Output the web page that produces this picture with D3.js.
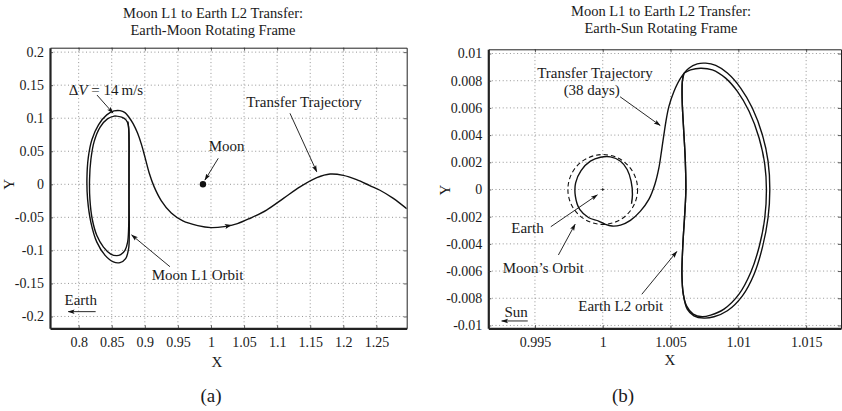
<!DOCTYPE html>
<html><head><meta charset="utf-8">
<script src="https://cdn.jsdelivr.net/npm/d3@7"></script>
<style>
body{margin:0;background:#fff}
svg{display:block}
text{font-family:"Liberation Serif","DejaVu Serif",serif;fill:#1a1a1a}
</style>
</head><body>
<svg id="c" width="842" height="411"></svg>
<script>
const FONT = "'Liberation Serif','DejaVu Serif',serif";
// ---------- Panel (a): Earth-Moon rotating frame ----------
const emXTicks = [0.8,0.85,0.9,0.95,1,1.05,1.1,1.15,1.2,1.25];
const emXTickLabels = ["0.8","0.85","0.9","0.95","1","1.05","1.1","1.15","1.2","1.25"];
const emYTicks = [-0.2,-0.15,-0.1,-0.05,0,0.05,0.1,0.15,0.2];
const emYTickLabels = ["-0.2","-0.15","-0.1","-0.05","0","0.05","0.1","0.15","0.2"];
const emXDomain = [0.7567, 1.2958];
const emYDomain = [-0.2179, 0.2067];

const moonL1Orbit = [
 [0.855,0.1035],[0.865,0.1015],[0.8715,0.0975],[0.875,0.09],[0.876,0.0675],[0.876,0.0275],
 [0.876,-0.0225],[0.8755,-0.0675],[0.874,-0.0875],[0.87,-0.1],[0.8635,-0.1065],[0.8575,-0.108],
 [0.8485,-0.1055],[0.8375,-0.095],[0.8275,-0.0775],[0.8205,-0.0525],[0.817,-0.0225],[0.8165,0.0075],
 [0.8185,0.0375],[0.8235,0.065],[0.8325,0.0865],[0.8435,0.099],[0.855,0.1035]
];
const emTransfer = [
 [0.8745,0.095],[0.876,0.0775],[0.8762,0.0275],[0.8762,-0.0225],[0.8765,-0.0725],[0.8755,-0.0975],
 [0.871,-0.1125],[0.8625,-0.1185],[0.8525,-0.1175],[0.84,-0.1075],[0.8275,-0.0875],[0.8185,-0.0575],
 [0.8135,-0.0225],[0.8125,0.0075],[0.8145,0.04],[0.82,0.0675],[0.83,0.09],[0.8425,0.105],
 [0.8535,0.111],[0.8625,0.1115],[0.87,0.1085],[0.876,0.1015],[0.8825,0.0915],[0.889,0.0775],
 [0.895,0.06],[0.9005,0.04],[0.9065,0.0175],[0.914,-0.0035],[0.925,-0.025],[0.94,-0.0435],
 [0.9575,-0.0555],[0.98,-0.0625],[1.0,-0.0655],[1.02,-0.064],[1.04,-0.0595],[1.06,-0.051],
 [1.084,-0.039],[1.11,-0.021],[1.1345,-0.004],[1.16,0.010],[1.18,0.0155],[1.2,0.0135],
 [1.22,0.007],[1.24,-0.002],[1.2554,-0.009],[1.275,-0.021],[1.2958,-0.037]
];
const moonPos = [0.98785, 0];
const emFlowArrow = [[1.02,-0.064],[1.04,-0.0595]];

const emLabels = [
 {t:"Moon L1 to Earth L2 Transfer:", px:213, py:13},
 {t:"Earth-Moon Rotating Frame", px:213, py:30}
];
const emNotes = [
 {t:"Transfer Trajectory", x:1.1406, y:0.125},
 {t:"Moon", x:1.0237, y:0.058},
 {t:"Moon L1 Orbit", x:0.9796, y:-0.1372},
 {t:"Earth", x:0.8032, y:-0.175}
];
const emArrows = [
 [[0.8277,0.1351],[0.8519,0.1078]],
 [[1.1194,0.1074],[1.1598,0.0191]],
 [[1.011,0.0393],[0.9909,0.0065]],
 [[0.938,-0.1247],[0.8801,-0.0767]],
 [[0.8257,-0.1927],[0.7843,-0.1927]]
];

// ---------- Panel (b): Earth-Sun rotating frame ----------
const esXTicks = [0.995,1,1.005,1.01,1.015];
const esXTickLabels = ["0.995","1","1.005","1.01","1.015"];
const esYTicks = [-0.01,-0.008,-0.006,-0.004,-0.002,0,0.002,0.004,0.006,0.008,0.01];
const esYTickLabels = ["-0.01","-0.008","-0.006","-0.004","-0.002","0","0.002","0.004","0.006","0.008","0.01"];
const esXDomain = [0.99156, 1.01757];
const esYDomain = [-0.01021, 0.01031];

const esTransfer = [
 [1.00212,-0.00105],[1.00219,-0.00037],[1.00209,0.00061],[1.0018,0.00147],[1.00131,0.00208],
 [1.00057,0.0024],[0.99983,0.00237],[0.99909,0.00208],[0.9984,0.00139],[0.998,0.00049],
 [0.99798,-0.00049],[0.9983,-0.00147],[0.99897,-0.00208],[0.9997,-0.00232],[1.0002,-0.00257],
 [1.00069,-0.00269],[1.00131,-0.00262],[1.00204,-0.00227],[1.00278,-0.00159],[1.0034,-0.00073],
 [1.00384,0.00037],[1.00414,0.00159],[1.00433,0.00281],[1.00451,0.00403],[1.00466,0.00501],
 [1.00488,0.00611],[1.00525,0.00721],[1.00574,0.00819],[1.00635,0.00892],[1.00697,0.00924],
 [1.00759,0.00929],[1.00833,0.00912],[1.00919,0.00856],[1.01017,0.00746],[1.01103,0.00599],
 [1.01177,0.00403],[1.01219,0.00208],[1.01232,0],[1.01219,-0.00208],[1.01177,-0.00428],
 [1.01116,-0.00623],[1.0103,-0.00782],[1.00919,-0.00892],[1.0082,-0.00936],[1.00746,-0.00946],
 [1.00672,-0.00929],[1.00623,-0.0088],[1.00594,-0.0077],[1.00584,-0.00623],[1.00591,-0.00403],
 [1.00606,-0.00159],[1.00613,0],[1.00608,0.00232],[1.00596,0.00452],[1.00586,0.00648],
 [1.00587,0.00795],[1.00599,0.00856]
];
const earthL2Orbit = [
 [1.00599,0.00856],[1.00648,0.0088],[1.00722,0.00892],[1.00808,0.0088],[1.00906,0.00819],
 [1.00993,0.00721],[1.01079,0.00575],[1.01153,0.00379],[1.01195,0.00183],[1.01207,0],
 [1.01195,-0.00208],[1.01155,-0.00416],[1.01091,-0.00611],[1.01005,-0.0077],[1.00894,-0.0088],
 [1.00796,-0.00924],[1.00734,-0.00936],[1.00667,-0.00917],[1.00618,-0.00856],[1.00594,-0.0077],
 [1.00584,-0.00623],[1.00591,-0.00403],[1.00606,-0.00159],[1.00613,0],[1.00608,0.00232],
 [1.00596,0.00452],[1.00586,0.00648],[1.00587,0.00795],[1.00599,0.00856]
];
const earthPos = [1, 0];
const moonOrbitRadius = 0.00257;

const esLabels = [
 {t:"Moon L1 to Earth L2 Transfer:", px:661, py:11},
 {t:"Earth-Sun Rotating Frame", px:661, py:28}
];
const esNotes = [
 {t:"Transfer Trajectory", x:0.99943, y:0.00859},
 {t:"(38 days)", x:0.99919, y:0.00732},
 {t:"Earth", x:0.99445, y:-0.00281},
 {t:"Moon\u2019s Orbit", x:0.99562, y:-0.00572},
 {t:"Earth L2 orbit", x:1.00133, y:-0.00854},
 {t:"Sun", x:0.99361, y:-0.00899}
];
const esArrows = [
 [[1.00128,0.00682],[1.00423,0.00471]],
 [[0.99617,-0.00274],[0.9996,-0.0004]],
 [[0.99673,-0.00482],[0.99796,-0.00256]],
 [[1.00288,-0.00771],[1.00546,-0.00457]],
 [[0.99447,-0.00967],[0.99255,-0.00967]]
];

// ---------- drawing ----------
const svg = d3.select("#c");
const defs = svg.append("defs");
defs.append("marker").attr("id","ah").attr("viewBox","0 -5 10 10")
  .attr("refX",9).attr("refY",0).attr("markerWidth",7).attr("markerHeight",7)
  .attr("markerUnits","userSpaceOnUse").attr("orient","auto")
  .append("path").attr("d","M0,-3.2L10,0L0,3.2L2,0Z").attr("fill","#111");

function panel(o){
  const x = d3.scaleLinear().domain(o.xd).range(o.xr);
  const y = d3.scaleLinear().domain(o.yd).range(o.yr);
  const g = svg.append("g").attr("font-family",FONT);
  const [x0,x1] = o.xr, [y0,y1] = o.yr;
  const grid = g.append("g").attr("stroke","#8a8a8a").attr("stroke-width",0.9).attr("stroke-dasharray","1,2.6");
  o.xt.forEach(v=>grid.append("line").attr("x1",x(v)).attr("x2",x(v)).attr("y1",y1).attr("y2",y0));
  o.yt.forEach(v=>grid.append("line").attr("y1",y(v)).attr("y2",y(v)).attr("x1",x0).attr("x2",x1));
  const ax = d3.axisBottom(x).tickValues(o.xt).tickFormat((d,i)=>o.xl[i]).tickSizeInner(-3).tickSizeOuter(0).tickPadding(9);
  const ay = d3.axisLeft(y).tickValues(o.yt).tickFormat((d,i)=>o.yl[i]).tickSizeInner(-3).tickSizeOuter(0).tickPadding(6);
  const axT = d3.axisTop(x).tickValues(o.xt).tickFormat("").tickSizeInner(-3).tickSizeOuter(0);
  const ayR = d3.axisRight(y).tickValues(o.yt).tickFormat("").tickSizeInner(-3).tickSizeOuter(0);
  const styleAx = (sel,w)=>{ sel.attr("font-family",FONT);
    sel.select(".domain").attr("stroke","#222").attr("stroke-width",w);
    sel.selectAll(".tick line").attr("stroke","#333").attr("stroke-width",0.8);
    sel.selectAll("text").attr("font-family",FONT).attr("font-size",14).attr("fill","#1a1a1a"); };
  g.append("g").attr("transform",`translate(0,${y1})`).call(axT).call(s=>styleAx(s,1));
  g.append("g").attr("transform",`translate(${x1},0)`).call(ayR).call(s=>styleAx(s,1));
  g.append("g").attr("transform",`translate(0,${y0})`).call(ax).call(s=>styleAx(s,2.2));
  g.append("g").attr("transform",`translate(${x0},0)`).call(ay).call(s=>styleAx(s,2.2));
  g.append("text").attr("x",o.xlab[0]).attr("y",o.xlab[1]).attr("text-anchor","middle").attr("dy","0.35em").attr("font-size",15).text("X");
  g.append("text").attr("transform",`translate(${o.ylab[0]},${o.ylab[1]}) rotate(-90)`).attr("text-anchor","middle").attr("dy","0.35em").attr("font-size",15).text("Y");
  o.titles.forEach(t=>g.append("text").attr("x",t.px).attr("y",t.py).attr("dy","0.35em").attr("text-anchor","middle").attr("font-size",14.5).text(t.t));
  g.append("text").attr("x",o.sub[0]).attr("y",o.sub[1]).attr("dy","0.35em").attr("text-anchor","middle").attr("font-size",19).text(o.sub[2]);
  const cid = "clip"+o.id;
  defs.append("clipPath").attr("id",cid).append("rect").attr("x",x0).attr("y",y1).attr("width",x1-x0).attr("height",y0-y1);
  const pg = g.append("g").attr("clip-path",`url(#${cid})`);
  const line = d3.line().x(d=>x(d[0])).y(d=>y(d[1])).curve(d3.curveCatmullRom.alpha(0.5));
  o.curves.forEach(c=>pg.append("path").attr("d",line(c.data)).attr("fill","none").attr("stroke","#111").attr("stroke-width",1.4));
  if(o.extra) o.extra(pg,x,y);
  o.notes.forEach(n=>g.append("text").attr("x",x(n.x)).attr("y",y(n.y)).attr("dy","0.35em").attr("text-anchor","middle").attr("font-size",15).text(n.t));
  o.arrows.forEach(a=>g.append("line").attr("x1",x(a[0][0])).attr("y1",y(a[0][1])).attr("x2",x(a[1][0])).attr("y2",y(a[1][1]))
     .attr("stroke","#111").attr("stroke-width",0.9).attr("marker-end","url(#ah)"));
  return {x,y,g};
}

const pa = panel({id:"a", xd:emXDomain, yd:emYDomain, xr:[50,406.7], yr:[328.3,47.7],
  xt:emXTicks, xl:emXTickLabels, yt:emYTicks, yl:emYTickLabels,
  xlab:[217,362], ylab:[9,184.3], titles:emLabels, sub:[211,395,"(a)"],
  curves:[{data:moonL1Orbit},{data:emTransfer}],
  notes:emNotes, arrows:emArrows,
  extra:(pg,x,y)=>{
    pg.append("circle").attr("cx",x(moonPos[0])).attr("cy",y(moonPos[1])).attr("r",3.2).attr("fill","#111");
    const a=emFlowArrow, px0=x(a[0][0]),py0=y(a[0][1]),px1=x(a[1][0]),py1=y(a[1][1]);
    const ang=Math.atan2(py1-py0,px1-px0)*180/Math.PI;
    pg.append("path").attr("d","M-6,-2.6L1,0L-6,2.6L-4.5,0Z").attr("fill","#111")
      .attr("transform",`translate(${(px0+px1)/2},${(py0+py1)/2}) rotate(${ang})`);
  }
});
// Delta V label (math)
{
  const t = pa.g.append("text").attr("x",pa.x(0.8413)).attr("y",pa.y(0.1427)).attr("dy","0.35em").attr("text-anchor","middle").attr("font-size",15);
  t.append("tspan").text("\u0394");
  t.append("tspan").attr("font-style","italic").text("V");
  t.append("tspan").text(" = 14\u2009m/s");
}

panel({id:"b", xd:esXDomain, yd:esYDomain, xr:[488.3,841], yr:[328.3,49.3],
  xt:esXTicks, xl:esXTickLabels, yt:esYTicks, yl:esYTickLabels,
  xlab:[670,360], ylab:[445,190], titles:esLabels, sub:[623,395,"(b)"],
  curves:[{data:esTransfer},{data:earthL2Orbit}],
  notes:esNotes, arrows:esArrows,
  extra:(pg,x,y)=>{
    const cx=x(earthPos[0]), cy=y(earthPos[1]);
    pg.append("ellipse").attr("cx",cx).attr("cy",cy)
      .attr("rx",x(earthPos[0]+moonOrbitRadius)-cx).attr("ry",cy-y(earthPos[1]+moonOrbitRadius))
      .attr("fill","none").attr("stroke","#111").attr("stroke-width",1.1).attr("stroke-dasharray","4.5,3");
    pg.append("path").attr("d",`M${cx-1.5},${cy}H${cx+1.5}M${cx},${cy-1.5}V${cy+1.5}`).attr("stroke","#111").attr("stroke-width",0.8);
  }
});
</script>
</body></html>
